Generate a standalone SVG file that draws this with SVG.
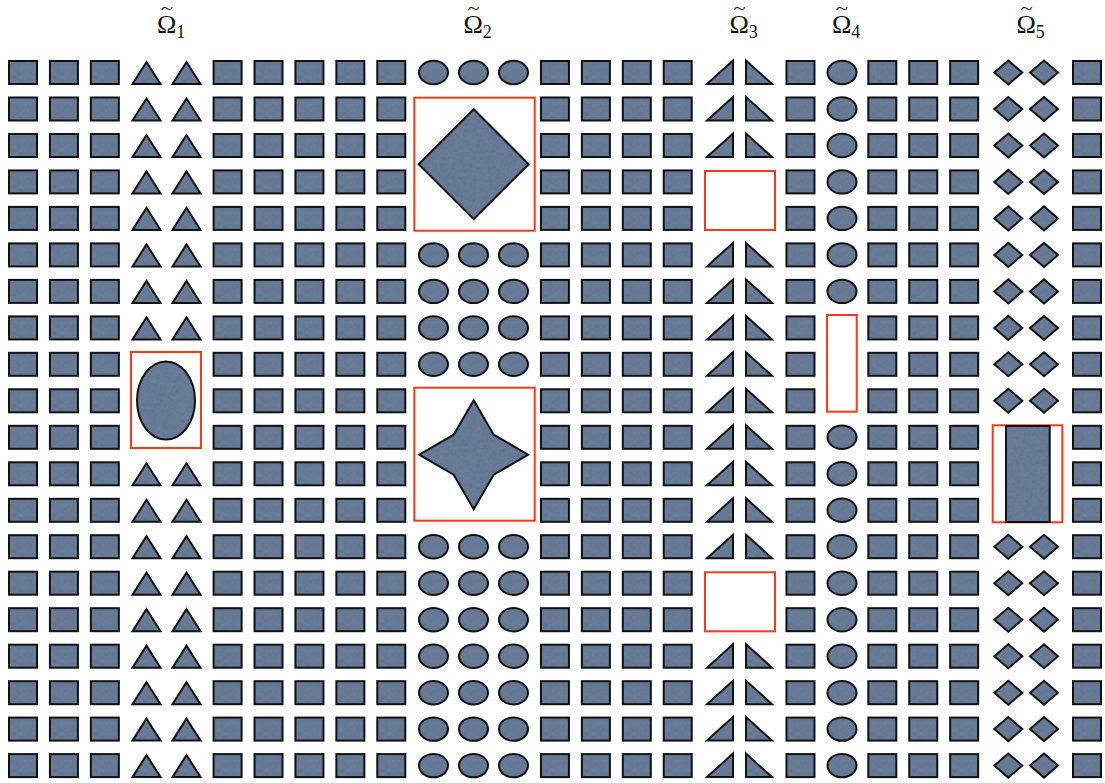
<svg xmlns="http://www.w3.org/2000/svg" xmlns:xlink="http://www.w3.org/1999/xlink" width="1105" height="783" viewBox="0 0 1105 783">
<style>
.s{fill:url(#tex);stroke:#111;stroke-width:2;stroke-linejoin:miter}
.box{fill:#fff;stroke:#f83a1a;stroke-width:2}
.lab{font-family:"Liberation Serif","DejaVu Serif",serif;font-size:26px;fill:#111}
.sub{font-size:18px}
.til{font-family:"Liberation Serif","DejaVu Serif",serif;font-size:16px;fill:#111;text-anchor:middle}
</style>
<defs>
<filter id="n" x="0" y="0" width="100%" height="100%" filterUnits="userSpaceOnUse">
<feTurbulence type="fractalNoise" baseFrequency="0.3" numOctaves="2" seed="4"/>
<feColorMatrix type="matrix" values="0.33 0.33 0.33 0 0  0.33 0.33 0.33 0 0  0.33 0.33 0.33 0 0  0 0 0 0 1"/>
</filter>
<pattern id="tex" patternUnits="userSpaceOnUse" width="160" height="160">
<rect width="160" height="160" fill="#5a7090"/>
<rect width="160" height="160" filter="url(#n)" opacity="0.12"/>
</pattern>
<rect id="sq" class="s" x="-14" y="-11.5" width="28" height="23"/>
<polygon id="tri" class="s" points="-14,11.5 14,11.5 0,-10.5"/>
<polygon id="rtl" class="s" points="-13,11.5 13,11.5 13,-12"/>
<polygon id="rtr" class="s" points="-13,-12 -13,11.5 13,11.5"/>
<ellipse id="ell" class="s" cx="0" cy="0" rx="14.5" ry="11.7"/>
<polygon id="dia" class="s" points="-14,0 0,-12 14,0 0,12"/>
<g id="sqcol">
<use href="#sq" y="72.5"/><use href="#sq" y="109"/><use href="#sq" y="145.5"/><use href="#sq" y="181.9"/><use href="#sq" y="218.4"/>
<use href="#sq" y="254.9"/><use href="#sq" y="291.4"/><use href="#sq" y="327.9"/><use href="#sq" y="364.3"/><use href="#sq" y="400.8"/>
<use href="#sq" y="437.3"/><use href="#sq" y="473.8"/><use href="#sq" y="510.3"/><use href="#sq" y="546.7"/><use href="#sq" y="583.2"/>
<use href="#sq" y="619.7"/><use href="#sq" y="656.2"/><use href="#sq" y="692.7"/><use href="#sq" y="729.1"/><use href="#sq" y="765.6"/>
</g>
<g id="tricol">
<use href="#tri" y="72.5"/><use href="#tri" y="109"/><use href="#tri" y="145.5"/><use href="#tri" y="181.9"/><use href="#tri" y="218.4"/>
<use href="#tri" y="254.9"/><use href="#tri" y="291.4"/><use href="#tri" y="327.9"/>
<use href="#tri" y="473.8"/><use href="#tri" y="510.3"/><use href="#tri" y="546.7"/><use href="#tri" y="583.2"/>
<use href="#tri" y="619.7"/><use href="#tri" y="656.2"/><use href="#tri" y="692.7"/><use href="#tri" y="729.1"/><use href="#tri" y="765.6"/>
</g>
<g id="ellcol2">
<use href="#ell" y="72.5"/>
<use href="#ell" y="254.9"/><use href="#ell" y="291.4"/><use href="#ell" y="327.9"/><use href="#ell" y="364.3"/>
<use href="#ell" y="546.7"/><use href="#ell" y="583.2"/>
<use href="#ell" y="619.7"/><use href="#ell" y="656.2"/><use href="#ell" y="692.7"/><use href="#ell" y="729.1"/><use href="#ell" y="765.6"/>
</g>
<g id="rtlcol">
<use href="#rtl" y="72.5"/><use href="#rtl" y="109"/><use href="#rtl" y="145.5"/>
<use href="#rtl" y="254.9"/><use href="#rtl" y="291.4"/><use href="#rtl" y="327.9"/><use href="#rtl" y="364.3"/><use href="#rtl" y="400.8"/>
<use href="#rtl" y="437.3"/><use href="#rtl" y="473.8"/><use href="#rtl" y="510.3"/><use href="#rtl" y="546.7"/>
<use href="#rtl" y="656.2"/><use href="#rtl" y="692.7"/><use href="#rtl" y="729.1"/><use href="#rtl" y="765.6"/>
</g>
<g id="rtrcol">
<use href="#rtr" y="72.5"/><use href="#rtr" y="109"/><use href="#rtr" y="145.5"/>
<use href="#rtr" y="254.9"/><use href="#rtr" y="291.4"/><use href="#rtr" y="327.9"/><use href="#rtr" y="364.3"/><use href="#rtr" y="400.8"/>
<use href="#rtr" y="437.3"/><use href="#rtr" y="473.8"/><use href="#rtr" y="510.3"/><use href="#rtr" y="546.7"/>
<use href="#rtr" y="656.2"/><use href="#rtr" y="692.7"/><use href="#rtr" y="729.1"/><use href="#rtr" y="765.6"/>
</g>
<g id="ellcol4">
<use href="#ell" y="72.5"/><use href="#ell" y="109"/><use href="#ell" y="145.5"/><use href="#ell" y="181.9"/><use href="#ell" y="218.4"/>
<use href="#ell" y="254.9"/><use href="#ell" y="291.4"/>
<use href="#ell" y="437.3"/><use href="#ell" y="473.8"/><use href="#ell" y="510.3"/><use href="#ell" y="546.7"/><use href="#ell" y="583.2"/>
<use href="#ell" y="619.7"/><use href="#ell" y="656.2"/><use href="#ell" y="692.7"/><use href="#ell" y="729.1"/><use href="#ell" y="765.6"/>
</g>
<g id="diacol">
<use href="#dia" y="72.5"/><use href="#dia" y="109"/><use href="#dia" y="145.5"/><use href="#dia" y="181.9"/><use href="#dia" y="218.4"/>
<use href="#dia" y="254.9"/><use href="#dia" y="291.4"/><use href="#dia" y="327.9"/><use href="#dia" y="364.3"/><use href="#dia" y="400.8"/>
<use href="#dia" y="546.7"/><use href="#dia" y="583.2"/>
<use href="#dia" y="619.7"/><use href="#dia" y="656.2"/><use href="#dia" y="692.7"/><use href="#dia" y="729.1"/><use href="#dia" y="765.6"/>
</g>
</defs>
<rect width="1105" height="783" fill="#fff"/>

<g id="labels">
<text class="lab" x="157" y="33">Ω<tspan class="sub" dy="5">1</tspan></text>
<text class="til" transform="translate(167,13.5) scale(1.4,1)">~</text>
<text class="lab" x="463.5" y="33">Ω<tspan class="sub" dy="5">2</tspan></text>
<text class="til" transform="translate(473.5,13.5) scale(1.4,1)">~</text>
<text class="lab" x="729.5" y="33">Ω<tspan class="sub" dy="5">3</tspan></text>
<text class="til" transform="translate(739.5,13.5) scale(1.4,1)">~</text>
<text class="lab" x="832" y="33">Ω<tspan class="sub" dy="5">4</tspan></text>
<text class="til" transform="translate(842,13.5) scale(1.4,1)">~</text>
<text class="lab" x="1016.5" y="33">Ω<tspan class="sub" dy="5">5</tspan></text>
<text class="til" transform="translate(1026.5,13.5) scale(1.4,1)">~</text>
</g>

<g id="squares">
<use href="#sqcol" x="23"/>
<use href="#sqcol" x="63.92"/>
<use href="#sqcol" x="104.84"/>
<use href="#sqcol" x="227.6"/>
<use href="#sqcol" x="268.52"/>
<use href="#sqcol" x="309.44"/>
<use href="#sqcol" x="350.36"/>
<use href="#sqcol" x="391.28"/>
<use href="#sqcol" x="554.96"/>
<use href="#sqcol" x="595.88"/>
<use href="#sqcol" x="636.8"/>
<use href="#sqcol" x="677.72"/>
<use href="#sqcol" x="800.48"/>
<use href="#sqcol" x="882.32"/>
<use href="#sqcol" x="923.24"/>
<use href="#sqcol" x="964.16"/>
<use href="#sqcol" x="1087"/>
</g>

<g id="omega1">
<use href="#tricol" x="146.5"/>
<use href="#tricol" x="186.5"/>
<rect class="box" x="131" y="352" width="70" height="96"/>
<ellipse class="s" cx="166" cy="400.5" rx="29" ry="39"/>
</g>

<g id="omega2">
<use href="#ellcol2" x="433.5"/>
<use href="#ellcol2" x="473.5"/>
<use href="#ellcol2" x="513.5"/>
<rect class="box" x="414.3" y="97.7" width="120.4" height="133"/>
<polygon class="s" points="418.7,164.2 473.7,109.2 528.7,164.2 473.7,219.2"/>
<rect class="box" x="414.3" y="387.7" width="120.4" height="133"/>
<polygon class="s" points="473.7,400.2 493.7,434.7 528.2,454.7 493.7,474.7 473.7,509.2 453.7,474.7 419.2,454.7 453.7,434.7"/>
</g>

<g id="omega3">
<use href="#rtlcol" x="720"/>
<use href="#rtrcol" x="759"/>
<rect class="box" x="705" y="171" width="70" height="59"/>
<rect class="box" x="705" y="572.3" width="70" height="59"/>
</g>

<g id="omega4">
<use href="#ellcol4" x="842"/>
<rect class="box" x="827" y="315" width="29.7" height="96.7"/>
</g>

<g id="omega5">
<use href="#diacol" x="1008.3"/>
<use href="#diacol" x="1044"/>
<rect class="box" x="992.7" y="425.3" width="69.6" height="97"/>
<rect class="s" x="1006" y="426" width="43.7" height="96"/>
</g>
</svg>
